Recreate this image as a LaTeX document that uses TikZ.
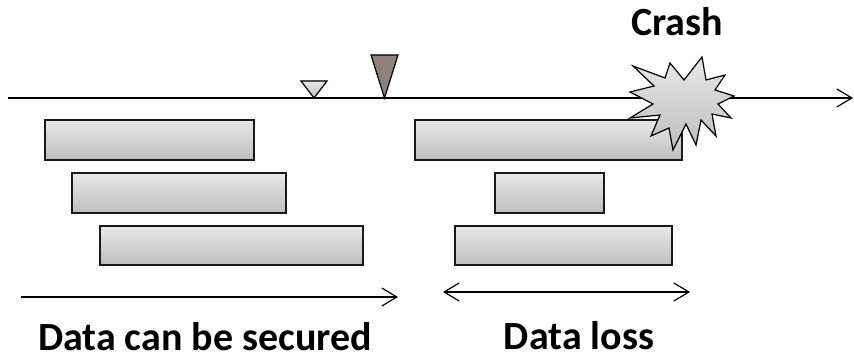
\documentclass[tikz,border=0pt]{standalone}
\usepackage{fontspec}
\setmainfont{Carlito}
\usetikzlibrary{arrows.meta}
\definecolor{bartop}{HTML}{E8E8E8}
\definecolor{barbot}{HTML}{BEBEBE}
\definecolor{markdark}{HTML}{8C817F}
\newcommand{\bigtext}{\fontsize{40}{48}\selectfont\bfseries}

\begin{document}
\begin{tikzpicture}[x=1pt,y=-1pt,line join=miter,
      >={Straight Barb[length=15pt,width=18pt,line width=1.2pt]}]
      \tikzstyle{bar}=[draw=black!90,line width=1.3pt,rectangle,inner sep=0pt,
                       top color=bartop,bottom color=barbot]
      \tikzstyle{label}=[inner sep=0pt,anchor=base,font=\bigtext]
      \tikzstyle{axis}=[line width=1.2pt]
      \useasboundingbox (0,0) rectangle (854,358);
      % time line
      \coordinate (tstart) at (8,98);
      \coordinate (tend) at (853,98);
      \draw[axis,->] (tstart) -- (tend);
      % writes before the check point
      \node (bar1) [bar,minimum width=209pt,minimum height=40pt] at (149.5,140) {};
      \node (bar2) [bar,minimum width=214pt,minimum height=40pt] at (179,193) {};
      \node (bar3) [bar,minimum width=263pt,minimum height=39pt] at (231.5,245.5) {};
      % writes after the check point
      \node (bar4) [bar,minimum width=267pt,minimum height=40pt] at (548.5,140) {};
      \node (bar5) [bar,minimum width=109pt,minimum height=40pt] at (549.5,193) {};
      \node (bar6) [bar,minimum width=217pt,minimum height=39pt] at (563.5,245.5) {};
      % marks on the time line
      \filldraw[line width=1.2pt,top color=bartop,bottom color=barbot]
          (301,81) -- (327,81) -- (314,98) -- cycle;
      \filldraw[line width=1.2pt,fill=markdark]
          (371,55) -- (398,55) -- (384.5,98) -- cycle;
      % crash
      \filldraw[line width=1.2pt,top color=bartop,bottom color=barbot]
          (702,57) -- (706,80) -- (725,75) -- (715,90) -- (734,96)
          -- (718,104) -- (731,118) -- (712,114) -- (716,136) -- (701,120)
          -- (696,145) -- (686,124) -- (673,150) -- (669,128) -- (651,136)
          -- (660,115) -- (630,118) -- (653,104) -- (630,92) -- (654,86)
          -- (633,66) -- (665,78) -- (670,63) -- (684,80) -- cycle;
      \node (crash) [label] at (677,36) {Crash};
      % ranges
      \coordinate (safeA) at (21,297);
      \coordinate (safeB) at (398,297);
      \draw[axis,->] (safeA) -- (safeB);
      \coordinate (lossA) at (443,292);
      \coordinate (lossB) at (690,292);
      \draw[axis,<->] (lossA) -- (lossB);
      \node (safe) [label] at (205,350) {Data can be secured};
      \node (loss) [label] at (579,349) {Data loss};
  \end{tikzpicture}
\end{document}
